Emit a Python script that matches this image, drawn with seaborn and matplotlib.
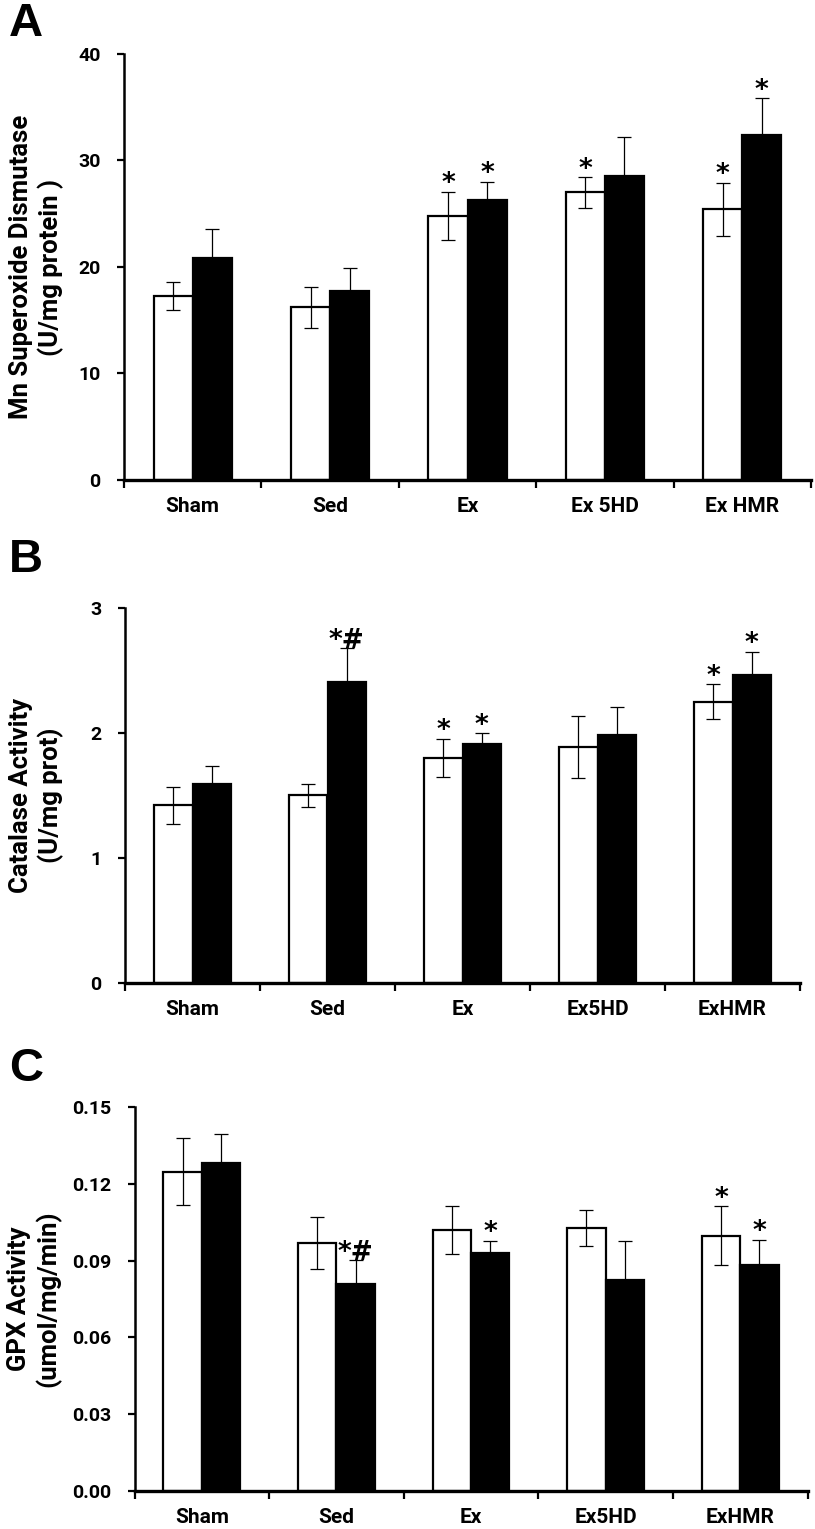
import pandas as pd
import seaborn as sns
import matplotlib.pyplot as plt
from matplotlib.ticker import FixedLocator, FormatStrFormatter


# --- DATOS ---
SERIES = ['Series 1', 'Series 2']

# Panel A: Mn SOD
A_groups = ['Sham', 'Sed', 'Ex', 'Ex 5HD', 'Ex HMR']
A_open = [17.3, 16.2, 24.8, 27.0, 25.4]
A_open_err = [1.3, 1.95, 2.25, 1.45, 2.5]
A_filled = [20.8, 17.7, 26.3, 28.5, 32.4]
A_filled_err = [2.8, 2.25, 1.7, 3.75, 3.45]
A_open_marks = ['', '', '*', '*', '*']
A_filled_marks = ['', '', '*', '', '*']
A_ticks = [0, 10, 20, 30, 40]

# Panel B: catalasa
B_groups = ['Sham', 'Sed', 'Ex', 'Ex5HD', 'ExHMR']
B_open = [1.42, 1.50, 1.80, 1.89, 2.25]
B_open_err = [0.15, 0.09, 0.155, 0.25, 0.14]
B_filled = [1.59, 2.41, 1.91, 1.98, 2.46]
B_filled_err = [0.145, 0.27, 0.09, 0.23, 0.19]
B_open_marks = ['', '', '*', '', '*']
B_filled_marks = ['', '*#', '*', '', '*']
B_ticks = [0, 1, 2, 3]

# Panel C: GPX
C_groups = ['Sham', 'Sed', 'Ex', 'Ex5HD', 'ExHMR']
C_open = [0.1248, 0.0968, 0.1019, 0.1027, 0.0997]
C_open_err = [0.013, 0.0102, 0.0094, 0.007, 0.0115]
C_filled = [0.128, 0.0807, 0.0931, 0.0823, 0.0883]
C_filled_err = [0.0113, 0.0094, 0.0047, 0.0154, 0.0099]
C_open_marks = ['', '', '', '', '*']
C_filled_marks = ['', '*#', '*', '', '*']
C_ticks = [0.0, 0.03, 0.06, 0.09, 0.12, 0.15]


# --- ESTILO ---
sns.set_theme(style='ticks')
plt.rcParams['font.family'] = ['Roboto', 'DejaVu Sans']
plt.rcParams['font.weight'] = 'bold'
for key in ['text.color', 'axes.labelcolor', 'xtick.color', 'ytick.color', 'axes.edgecolor']:
    plt.rcParams[key] = 'black'


def make_df(groups, open_vals, filled_vals):
    rows = []
    for g, v in zip(groups, open_vals):
        rows.append({'group': g, 'series': SERIES[0], 'value': v})
    for g, v in zip(groups, filled_vals):
        rows.append({'group': g, 'series': SERIES[1], 'value': v})
    return pd.DataFrame(rows)


def draw_panel(fig, rect, letter, letter_y, groups, open_vals, open_err, filled_vals,
               filled_err, open_marks, filled_marks, yticks, ylabel, label_x, fmt):
    ax = fig.add_axes(rect)
    df = make_df(groups, open_vals, filled_vals)
    sns.barplot(data=df, x='group', y='value', hue='series', hue_order=SERIES,
                palette=['white', 'black'], edgecolor='black', linewidth=1.6,
                width=0.57, errorbar=None, legend=False, ax=ax, zorder=2)

    errs = [open_err, filled_err]
    marks = [open_marks, filled_marks]
    for cont, err, mk in zip(ax.containers, errs, marks):
        xs = [p.get_x() + p.get_width() / 2 for p in cont.patches]
        hs = [p.get_height() for p in cont.patches]
        ax.errorbar(xs, hs, yerr=err, fmt='none', ecolor='black', elinewidth=0.9,
                    capsize=5, capthick=0.9, zorder=3)
        for x, h, e, m in zip(xs, hs, err, mk):
            if m:
                ax.annotate(m, (x, h + e), xytext=(0, -4), textcoords='offset points',
                            ha='center', va='bottom', fontsize=19, fontweight='bold',
                            family=['DejaVu Sans'], annotation_clip=False)

    ax.set_xlim(-0.5, 4.5)
    ax.set_ylim(yticks[0], yticks[-1])
    ax.set_yticks(yticks)
    ax.yaxis.set_major_formatter(FormatStrFormatter(fmt))
    ax.xaxis.set_minor_locator(FixedLocator([i - 0.5 for i in range(6)]))
    ax.tick_params(axis='x', which='major', length=0, pad=12, labelsize=15)
    ax.tick_params(axis='x', which='minor', length=6, width=1.6, direction='out')
    ax.tick_params(axis='y', length=5, width=1.6, direction='out', pad=12, labelsize=14)
    for lab in ax.get_xticklabels() + ax.get_yticklabels():
        lab.set_fontweight('bold')

    sns.despine(ax=ax)
    ax.spines['left'].set_linewidth(1.8)
    ax.spines['bottom'].set_linewidth(2.4)

    ax.set_xlabel('')
    ax.set_ylabel(ylabel, fontsize=18.5, fontweight='bold',
                  multialignment='center', linespacing=1.2)
    ax.yaxis.set_label_coords(label_x, 0.5)

    fig.text(9 / 815, letter_y, letter, fontsize=34, fontweight='bold',
             family=['Liberation Sans', 'DejaVu Sans'], va='baseline', ha='left')
    return ax


fig = plt.figure(figsize=(8.15, 15.29), dpi=100)

draw_panel(fig, [124 / 815, 1 - 480 / 1529, 687 / 815, 426 / 1529], 'A', 1 - 36 / 1529,
           A_groups, A_open, A_open_err, A_filled, A_filled_err, A_open_marks,
           A_filled_marks, A_ticks, 'Mn Superoxide Dismutase\n(U/mg protein )', -0.088, '%d')

draw_panel(fig, [125 / 815, 1 - 983 / 1529, 675 / 815, 375 / 1529], 'B', 1 - 572 / 1529,
           B_groups, B_open, B_open_err, B_filled, B_filled_err, B_open_marks,
           B_filled_marks, B_ticks, 'Catalase Activity\n(U/mg prot)', -0.091, '%d')

draw_panel(fig, [134.5 / 815, 1 - 1491 / 1529, 673 / 815, 384 / 1529], 'C', 1 - 1081 / 1529,
           C_groups, C_open, C_open_err, C_filled, C_filled_err, C_open_marks,
           C_filled_marks, C_ticks, 'GPX Activity\n(umol/mg/min)', -0.109, '%.2f')

fig.savefig('out.png', dpi=100)
